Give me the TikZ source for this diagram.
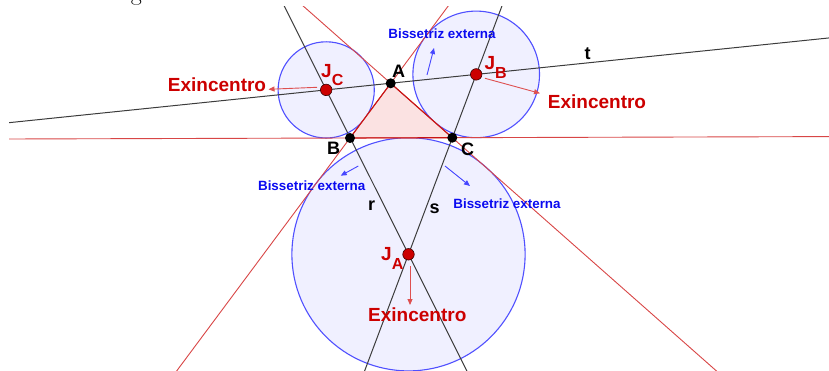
\documentclass[tikz,border=0pt]{standalone}
\usepackage{fontspec}
\newfontfamily\arialf{Liberation Sans}
\usetikzlibrary{calc,arrows.meta}
\definecolor{exred}{RGB}{204,0,0}
\definecolor{linered}{RGB}{216,70,70}
\definecolor{edgered}{RGB}{200,20,20}
\definecolor{circblue}{RGB}{80,80,255}
\definecolor{circfill}{RGB}{240,240,255}
\definecolor{trifill}{RGB}{251,226,226}
\definecolor{gline}{RGB}{60,60,60}
\definecolor{txtblue}{RGB}{10,10,240}
\definecolor{arrblue}{RGB}{70,70,255}
\definecolor{arrred}{RGB}{222,80,80}
\tikzset{
  excirc/.style={draw=circblue, fill=circfill, line width=1.1pt},
  redline/.style={draw=linered, line width=0.9pt},
  blkline/.style={draw=gline, line width=1pt},
  triedge/.style={draw=edgered, line width=1.1pt},
  redarr/.style={draw=arrred, line width=0.9pt, -{Triangle[length=6pt,width=5pt]}},
  bluearr/.style={draw=arrblue, line width=0.9pt, -{Triangle[length=6pt,width=5pt]}},
  blkpt/.style={circle, fill=black, inner sep=0pt, minimum size=10pt},
  redpt/.style={circle, fill=exred, draw=black!70!exred, line width=0.6pt, inner sep=0pt, minimum size=11.5pt},
  exlbl/.style={inner sep=0pt, text=exred, font=\arialf\bfseries\fontsize{19}{19}\selectfont},
  jlbl/.style={inner sep=0pt, text=exred, font=\arialf\bfseries\fontsize{19}{19}\selectfont},
  ptlbl/.style={inner sep=0pt, text=black, font=\arialf\bfseries\fontsize{18}{18}\selectfont},
  bislbl/.style={inner sep=0pt, text=txtblue, font=\arialf\bfseries\fontsize{13.4}{13.4}\selectfont}
}
\newcommand{\subl}[1]{\raisebox{-8.5pt}{\fontsize{16}{16}\selectfont #1}}
\begin{document}
\begin{tikzpicture}[x=1pt,y=-1pt]
\useasboundingbox (0,0) rectangle (829,371);
\begin{scope}
\clip (0,0) rectangle (829,371);
\node[anchor=base, inner sep=0pt, font=\fontsize{24}{24}\selectfont] (gfrag) at (136.5,0.3) {g};
\end{scope}
% points
\coordinate (A) at (390.7,83.3);
\coordinate (B) at (350,138);
\coordinate (C) at (452.3,137.7);
\coordinate (JA) at (408.5,254.3);
\coordinate (JB) at (476.2,74.4);
\coordinate (JC) at (326.2,89.9);
% excircles
\draw[excirc] (JA) circle[radius=116.6pt];
\draw[excirc] (JB) circle[radius=63.3pt];
\draw[excirc] (JC) circle[radius=48.1pt];
% triangle
\fill[trifill] (A) -- (B) -- (C) -- cycle;
% lines
\begin{scope}
\clip (9,7) rectangle (829,371);
\draw[redline] ($(B)!-12!(C)$) -- ($(B)!12!(C)$);
\draw[redline] ($(A)!-8!(B)$) -- ($(A)!8!(B)$);
\draw[redline] ($(A)!-8!(C)$) -- ($(A)!8!(C)$);
\draw[blkline] ($(JC)!-3!(JA)$) -- ($(JC)!3!(JA)$);
\draw[blkline] ($(JB)!-3!(JA)$) -- ($(JB)!3!(JA)$);
\draw[blkline] ($(JC)!-3!(JB)$) -- ($(JC)!6!(JB)$);
\end{scope}
\draw[triedge] (A) -- (B) -- (C) -- cycle;
% vectors
\coordinate (vc0) at (317,87.3);  \coordinate (vc1) at (268.5,89.3);
\coordinate (vb0) at (485,78.3);  \coordinate (vb1) at (540,93.3);
\coordinate (va0) at (410,266);   \coordinate (va1) at (410,305);
\coordinate (u0) at (427,75);     \coordinate (u1) at (434,48);
\coordinate (l0) at (358.3,166);  \coordinate (l1) at (340.7,175.7);
\coordinate (r0) at (445,166);    \coordinate (r1) at (470,186);
\draw[redarr] (vc0) -- (vc1);
\draw[redarr] (vb0) -- (vb1);
\draw[redarr] (va0) -- (va1);
\draw[bluearr] (u0) -- (u1);
\draw[bluearr] (l0) -- (l1);
\draw[bluearr] (r0) -- (r1);
% point marks
\node[blkpt] (pA) at (A) {};
\node[blkpt] (pB) at (B) {};
\node[blkpt] (pC) at (C) {};
\node[redpt] (pJA) at (JA) {};
\node[redpt] (pJB) at (JB) {};
\node[redpt] (pJC) at (JC) {};
% labels
\node[ptlbl, anchor=base] (lA) at (398.5,78) {A};
\node[ptlbl, anchor=base] (lB) at (333.7,155) {B};
\node[ptlbl, anchor=base] (lC) at (467.5,156) {C};
\node[ptlbl, anchor=base] (lt) at (587.7,60) {t};
\node[ptlbl, anchor=base] (lr) at (371.7,211) {r};
\node[ptlbl, anchor=base] (ls) at (434.7,213.7) {s};
\node[jlbl, anchor=base west] (lJC) at (321,77.3) {J\subl{C}};
\node[jlbl, anchor=base west] (lJB) at (484.3,70) {J\subl{B}};
\node[jlbl, anchor=base west] (lJA) at (381,261) {J\subl{A}};
\node[exlbl, anchor=base] (ex1) at (217,91.5) {Exincentro};
\node[exlbl, anchor=base] (ex2) at (597,109) {Exincentro};
\node[exlbl, anchor=base] (ex3) at (417.3,321.7) {Exincentro};
\node[bislbl, anchor=base] (b1) at (442,39) {Bissetriz externa};
\node[bislbl, anchor=base] (b2) at (311.7,191) {Bissetriz externa};
\node[bislbl, anchor=base] (b3) at (507,208.3) {Bissetriz externa};
\end{tikzpicture}
\end{document}
